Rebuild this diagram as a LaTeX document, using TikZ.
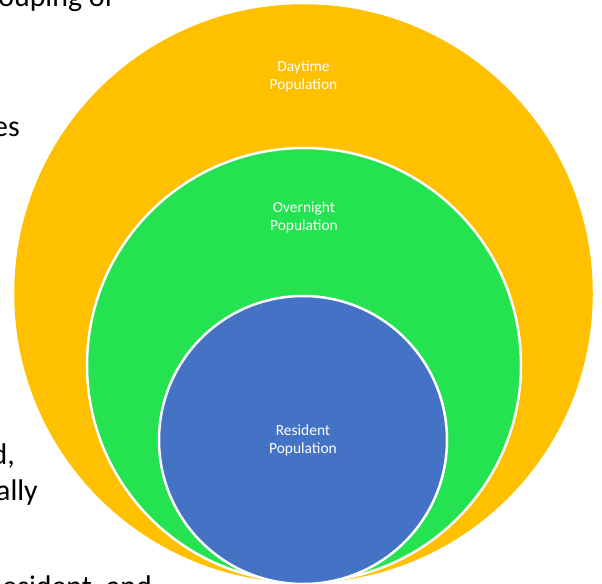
\documentclass[tikz,border=0pt]{standalone}
\usepackage{fontspec}
\setmainfont{Carlito}
\usetikzlibrary{positioning}

\definecolor{dayyellow}{HTML}{FFC000}
\definecolor{nightgreen}{HTML}{24E250}
\definecolor{residentblue}{HTML}{4472C4}

\begin{document}
\begin{tikzpicture}[x=1bp, y=-1bp,
    ring/.style = {circle, draw=white, line width=2.5bp, inner sep=0pt, outer sep=0pt},
    poplabel/.style = {text=white, align=center, font=\fontsize{15.5}{18}\selectfont},
    bodytext/.style = {anchor=base east, inner sep=0pt, font=\fontsize{30}{36}\selectfont}]
    \useasboundingbox (0,0) rectangle (602,584);
    \clip (0,0) rectangle (602,584);
    % paragraph text running behind the circles
    \node[bodytext] (line1) at (114,7) {ouping of};
    \node[bodytext] (line2) at (20,137) {es};
    \node[bodytext] (line3) at (15,464) {d,};
    \node[bodytext] (line4) at (38,500) {ally};
    \node[bodytext] (line5) at (152,596) {esident, and};
    % nested populations
    \node[ring, draw=dayyellow, fill=dayyellow, minimum size=576bp] (daytime) at (303.5,293.5) {};
    \node[ring, fill=nightgreen, minimum size=434bp] (overnight) at (304,365) {};
    \node[ring, fill=residentblue, minimum size=288bp, poplabel] (resident) at (303,440) {Resident\\Population};
    \node[poplabel, below=52bp of daytime.north] (daylabel) {Daytime\\Population};
    \node[poplabel, below=50bp of overnight.north] (nightlabel) {Overnight\\Population};
\end{tikzpicture}
\end{document}
